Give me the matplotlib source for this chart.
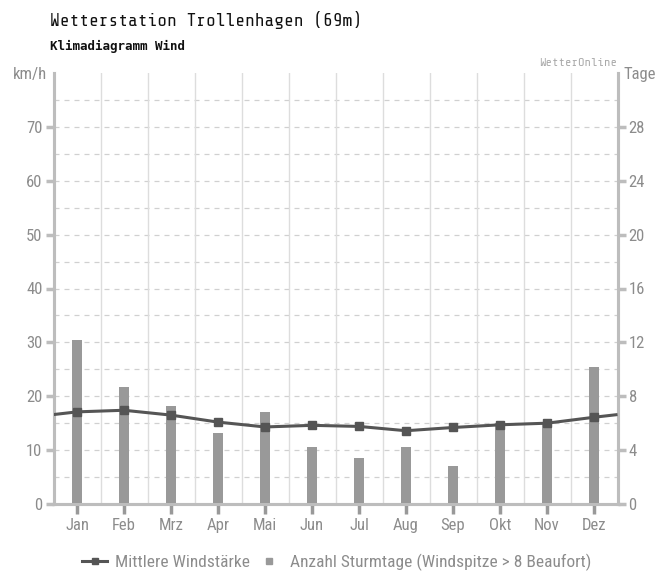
import matplotlib
matplotlib.use("Agg")
import matplotlib.pyplot as plt
import numpy as np
from matplotlib.lines import Line2D

months = ["Jan", "Feb", "Mrz", "Apr", "Mai", "Jun", "Jul", "Aug", "Sep", "Okt", "Nov", "Dez"]
wind_kmh = [17.1, 17.4, 16.5, 15.2, 14.3, 14.6, 14.4, 13.6, 14.2, 14.7, 15.0, 16.1]
storm_days = [12.15, 8.7, 7.25, 5.3, 6.85, 4.25, 3.4, 4.2, 2.85, 6.0, 6.0, 10.2]
left_ticks = [0, 10, 20, 30, 40, 50, 60, 70]
right_ticks = [0, 4, 8, 12, 16, 20, 24, 28]

COND = ["Roboto Condensed", "DejaVu Sans"]
MONO = ["Share Tech Mono", "DejaVu Sans Mono"]
gray_txt = "#8c8c8c"
spine_c = "#bdbdbd"

fig = plt.figure(figsize=(6.70, 5.71), dpi=100)
ax2 = fig.add_axes([53.5 / 670, 1 - 504 / 571, 564 / 670, 431 / 571])
ax = ax2.twinx()
ax.set_zorder(ax2.get_zorder() + 1)
ax.patch.set_visible(False)

x = np.arange(len(months))

# bars (days) on right axis
ax2.bar(x, storm_days, width=0.21, color="#999999", zorder=3)
ax2.set_xlim(-0.5, len(months) - 0.5)
ax2.set_ylim(0, 32)
for g in np.arange(2, 32, 2):
    ax2.axhline(g, color="#d0d0d0", lw=0.9, ls=(0, (4, 4)), zorder=1)
for b in np.arange(0.5, len(months) - 0.5, 1):
    ax2.axvline(b, color="#dddddd", lw=1.0, zorder=1)

# line (km/h) on left axis, wrapping to the edges
edge = (wind_kmh[0] + wind_kmh[-1]) / 2
xl = np.concatenate([[-0.5], x, [len(months) - 0.5]])
yl = np.concatenate([[edge], wind_kmh, [edge]])
ax.plot(xl, yl, color="#555555", lw=2.2, zorder=5, solid_capstyle="butt")
ax.plot(x, wind_kmh, ls="none", marker="s", ms=6, color="#555555", zorder=6)
ax.set_ylim(0, 80)
ax.set_xlim(-0.5, len(months) - 0.5)

ax.yaxis.set_ticks_position("left")
ax.yaxis.set_label_position("left")
ax2.yaxis.set_ticks_position("right")
ax2.yaxis.set_label_position("right")

ax.set_yticks(left_ticks)
ax.set_yticklabels([str(t) for t in left_ticks], family=COND, fontsize=12, color=gray_txt)
ax2.set_yticks(right_ticks)
ax2.set_yticklabels([str(t) for t in right_ticks], family=COND, fontsize=12, color=gray_txt)
ax2.set_xticks(x)
ax2.set_xticklabels(months, family=COND, fontsize=12, color=gray_txt)

ax.tick_params(axis="y", direction="out", length=6, width=2.5, color=spine_c, pad=2)
ax2.tick_params(axis="y", direction="out", length=6, width=2.5, color=spine_c, pad=2)
ax2.tick_params(axis="x", direction="out", length=7, width=2.5, color="#999999", pad=3)

for a in (ax, ax2):
    a.spines["top"].set_visible(False)
    for s in ("left", "right", "bottom"):
        a.spines[s].set_color(spine_c)
        a.spines[s].set_linewidth(2.2)

fig.text(50 / 670, 1 - 20 / 571, "Wetterstation Trollenhagen (69m)", family=MONO,
         fontsize=13, color="#111111", va="center", ha="left")
fig.text(50 / 670, 1 - 46 / 571, "Klimadiagramm Wind", family=["DejaVu Sans Mono"], fontweight="bold",
         fontsize=9, color="#111111", va="center", ha="left")
fig.text(47 / 670, 1 - 74 / 571, "km/h", family=COND, fontsize=12, color=gray_txt,
         va="center", ha="right")
fig.text(623 / 670, 1 - 74 / 571, "Tage", family=COND, fontsize=12, color=gray_txt,
         va="center", ha="left")
fig.text(617 / 670, 1 - 63 / 571, "WetterOnline", family=MONO, fontsize=8.7, color="#aaaaaa",
         va="center", ha="right")

# legend
h1 = Line2D([], [], color="#555555", lw=2.2, marker="s", ms=5)
h2 = Line2D([], [], color="#999999", ls="none", marker="s", ms=5)
fig.legend([h1, h2], ["Mittlere Windstärke", "Anzahl Sturmtage (Windspitze > 8 Beaufort)"],
           loc="center", bbox_to_anchor=(337 / 670, 1 - 562 / 571), ncol=2, frameon=False,
           prop={"family": COND, "size": 12.5}, labelcolor=gray_txt, handlelength=1.4,
           columnspacing=0.4, handletextpad=0.5)

fig.savefig("out.png", dpi=100)
